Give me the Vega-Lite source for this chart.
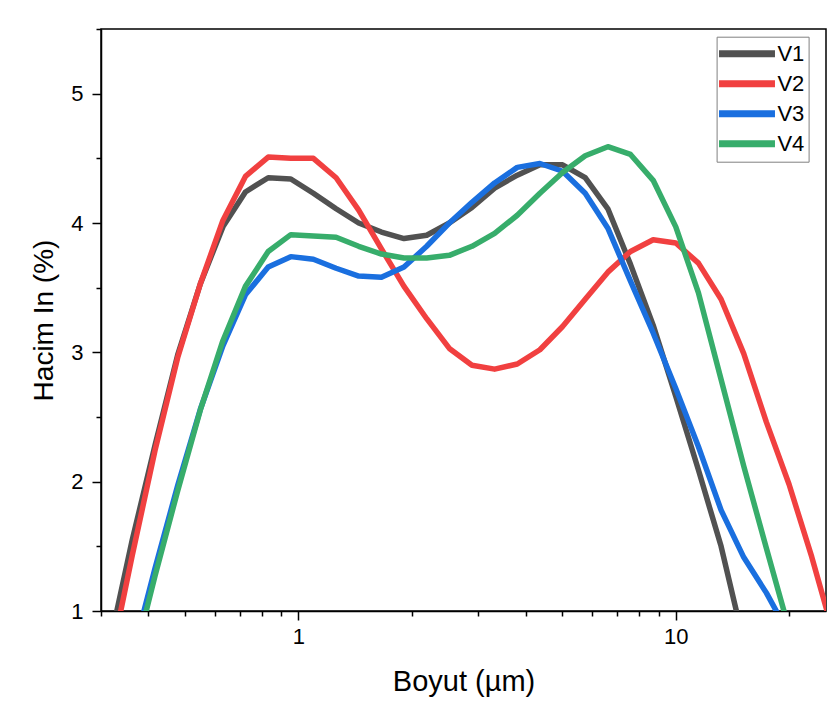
{
  "$schema": "https://vega.github.io/schema/vega-lite/v6.json",
  "width": 725,
  "height": 582,
  "autosize": {"type": "none"},
  "padding": {"left": 101, "top": 29, "right": 3, "bottom": 107},
  "background": "white",
  "config": {
    "font": "Liberation Sans",
    "view": {"stroke": "black", "strokeWidth": 1.5},
    "axis": {
      "tickWidth": 1.5,
      "tickColor": "black",
      "domainColor": "black",
      "domainWidth": 1.5,
      "grid": false,
      "labelColor": "black",
      "labelFlush": false,
      "labelOverlap": false,
      "titleFontWeight": "normal",
      "titleColor": "black"
    }
  },
  "data": {
    "values": [
      {"x": 0.316, "y": 0.74, "s": "V1"}, {"x": 0.363, "y": 1.55, "s": "V1"}, {"x": 0.417, "y": 2.28, "s": "V1"},
      {"x": 0.479, "y": 2.98, "s": "V1"}, {"x": 0.550, "y": 3.53, "s": "V1"}, {"x": 0.631, "y": 3.97, "s": "V1"},
      {"x": 0.724, "y": 4.24, "s": "V1"}, {"x": 0.832, "y": 4.35, "s": "V1"}, {"x": 0.955, "y": 4.34, "s": "V1"},
      {"x": 1.096, "y": 4.23, "s": "V1"}, {"x": 1.259, "y": 4.11, "s": "V1"}, {"x": 1.445, "y": 4.00, "s": "V1"},
      {"x": 1.660, "y": 3.93, "s": "V1"}, {"x": 1.905, "y": 3.88, "s": "V1"}, {"x": 2.188, "y": 3.905, "s": "V1"},
      {"x": 2.512, "y": 4.00, "s": "V1"}, {"x": 2.884, "y": 4.12, "s": "V1"}, {"x": 3.311, "y": 4.27, "s": "V1"},
      {"x": 3.802, "y": 4.37, "s": "V1"}, {"x": 4.365, "y": 4.45, "s": "V1"}, {"x": 5.012, "y": 4.45, "s": "V1"},
      {"x": 5.754, "y": 4.35, "s": "V1"}, {"x": 6.607, "y": 4.11, "s": "V1"}, {"x": 7.586, "y": 3.68, "s": "V1"},
      {"x": 8.710, "y": 3.21, "s": "V1"}, {"x": 10.0, "y": 2.66, "s": "V1"}, {"x": 11.482, "y": 2.09, "s": "V1"},
      {"x": 13.183, "y": 1.50, "s": "V1"}, {"x": 15.136, "y": 0.76, "s": "V1"},

      {"x": 0.316, "y": 0.58, "s": "V2"}, {"x": 0.363, "y": 1.43, "s": "V2"}, {"x": 0.417, "y": 2.24, "s": "V2"},
      {"x": 0.479, "y": 2.96, "s": "V2"}, {"x": 0.550, "y": 3.53, "s": "V2"}, {"x": 0.631, "y": 4.02, "s": "V2"},
      {"x": 0.724, "y": 4.36, "s": "V2"}, {"x": 0.832, "y": 4.51, "s": "V2"}, {"x": 0.955, "y": 4.50, "s": "V2"},
      {"x": 1.096, "y": 4.50, "s": "V2"}, {"x": 1.259, "y": 4.35, "s": "V2"}, {"x": 1.445, "y": 4.10, "s": "V2"},
      {"x": 1.660, "y": 3.80, "s": "V2"}, {"x": 1.905, "y": 3.51, "s": "V2"}, {"x": 2.188, "y": 3.26, "s": "V2"},
      {"x": 2.512, "y": 3.03, "s": "V2"}, {"x": 2.884, "y": 2.90, "s": "V2"}, {"x": 3.311, "y": 2.87, "s": "V2"},
      {"x": 3.802, "y": 2.91, "s": "V2"}, {"x": 4.365, "y": 3.02, "s": "V2"}, {"x": 5.012, "y": 3.20, "s": "V2"},
      {"x": 5.754, "y": 3.41, "s": "V2"}, {"x": 6.607, "y": 3.62, "s": "V2"}, {"x": 7.586, "y": 3.78, "s": "V2"},
      {"x": 8.710, "y": 3.87, "s": "V2"}, {"x": 10.0, "y": 3.845, "s": "V2"}, {"x": 11.482, "y": 3.69, "s": "V2"},
      {"x": 13.183, "y": 3.41, "s": "V2"}, {"x": 15.136, "y": 2.99, "s": "V2"}, {"x": 17.378, "y": 2.46, "s": "V2"},
      {"x": 19.953, "y": 1.98, "s": "V2"}, {"x": 22.909, "y": 1.42, "s": "V2"}, {"x": 26.303, "y": 0.80, "s": "V2"},

      {"x": 0.363, "y": 0.65, "s": "V3"}, {"x": 0.417, "y": 1.33, "s": "V3"}, {"x": 0.479, "y": 1.97, "s": "V3"},
      {"x": 0.550, "y": 2.56, "s": "V3"}, {"x": 0.631, "y": 3.05, "s": "V3"}, {"x": 0.724, "y": 3.445, "s": "V3"},
      {"x": 0.832, "y": 3.66, "s": "V3"}, {"x": 0.955, "y": 3.74, "s": "V3"}, {"x": 1.096, "y": 3.72, "s": "V3"},
      {"x": 1.259, "y": 3.65, "s": "V3"}, {"x": 1.445, "y": 3.59, "s": "V3"}, {"x": 1.660, "y": 3.58, "s": "V3"},
      {"x": 1.905, "y": 3.66, "s": "V3"}, {"x": 2.188, "y": 3.82, "s": "V3"}, {"x": 2.512, "y": 4.00, "s": "V3"},
      {"x": 2.884, "y": 4.16, "s": "V3"}, {"x": 3.311, "y": 4.31, "s": "V3"}, {"x": 3.802, "y": 4.43, "s": "V3"},
      {"x": 4.365, "y": 4.46, "s": "V3"}, {"x": 5.012, "y": 4.40, "s": "V3"}, {"x": 5.754, "y": 4.23, "s": "V3"},
      {"x": 6.607, "y": 3.96, "s": "V3"}, {"x": 7.586, "y": 3.55, "s": "V3"}, {"x": 8.710, "y": 3.15, "s": "V3"},
      {"x": 10.0, "y": 2.72, "s": "V3"}, {"x": 11.482, "y": 2.27, "s": "V3"}, {"x": 13.183, "y": 1.78, "s": "V3"},
      {"x": 15.136, "y": 1.415, "s": "V3"}, {"x": 17.378, "y": 1.14, "s": "V3"}, {"x": 19.953, "y": 0.82, "s": "V3"},

      {"x": 0.363, "y": 0.57, "s": "V4"}, {"x": 0.417, "y": 1.27, "s": "V4"}, {"x": 0.479, "y": 1.93, "s": "V4"},
      {"x": 0.550, "y": 2.555, "s": "V4"}, {"x": 0.631, "y": 3.09, "s": "V4"}, {"x": 0.724, "y": 3.51, "s": "V4"},
      {"x": 0.832, "y": 3.78, "s": "V4"}, {"x": 0.955, "y": 3.91, "s": "V4"}, {"x": 1.096, "y": 3.90, "s": "V4"},
      {"x": 1.259, "y": 3.89, "s": "V4"}, {"x": 1.445, "y": 3.82, "s": "V4"}, {"x": 1.660, "y": 3.76, "s": "V4"},
      {"x": 1.905, "y": 3.73, "s": "V4"}, {"x": 2.188, "y": 3.73, "s": "V4"}, {"x": 2.512, "y": 3.75, "s": "V4"},
      {"x": 2.884, "y": 3.82, "s": "V4"}, {"x": 3.311, "y": 3.92, "s": "V4"}, {"x": 3.802, "y": 4.06, "s": "V4"},
      {"x": 4.365, "y": 4.23, "s": "V4"}, {"x": 5.012, "y": 4.39, "s": "V4"}, {"x": 5.754, "y": 4.52, "s": "V4"},
      {"x": 6.607, "y": 4.59, "s": "V4"}, {"x": 7.586, "y": 4.53, "s": "V4"}, {"x": 8.710, "y": 4.33, "s": "V4"},
      {"x": 10.0, "y": 3.97, "s": "V4"}, {"x": 11.482, "y": 3.46, "s": "V4"}, {"x": 13.183, "y": 2.79, "s": "V4"},
      {"x": 15.136, "y": 2.12, "s": "V4"}, {"x": 17.378, "y": 1.485, "s": "V4"}, {"x": 19.953, "y": 0.86, "s": "V4"}
    ]
  },
  "layer": [
    {
      "mark": {"type": "line", "opacity": 0, "clip": true},
      "encoding": {
        "x": {
          "field": "x",
          "type": "quantitative",
          "scale": {"type": "log", "domain": [0.3, 25], "nice": false},
          "axis": {
            "orient": "bottom",
            "values": [0.3, 0.4, 0.5, 0.6, 0.7, 0.8, 0.9, 2, 3, 4, 5, 6, 7, 8, 9, 20],
            "labels": false,
            "title": null,
            "domain": false,
            "tickSize": 5
          }
        },
        "y": {
          "field": "y",
          "type": "quantitative",
          "scale": {"domain": [1, 5.5], "nice": false, "zero": false},
          "axis": {
            "orient": "left",
            "values": [1.5, 2.5, 3.5, 4.5, 5.5],
            "labels": false,
            "title": null,
            "domain": false,
            "tickSize": 5
          }
        },
        "detail": {"field": "s", "type": "nominal"}
      }
    },
    {
      "mark": {"type": "line", "strokeWidth": 5.5, "clip": true, "strokeJoin": "round"},
      "encoding": {
        "x": {
          "field": "x",
          "type": "quantitative",
          "title": "Boyut (µm)",
          "scale": {"type": "log", "domain": [0.3, 25], "nice": false},
          "axis": {
            "orient": "bottom",
            "values": [1, 10],
            "format": "d",
            "tickSize": 9,
            "labelFontSize": 22,
            "labelPadding": 6,
            "titleFontSize": 29,
            "titlePadding": 20
          }
        },
        "y": {
          "field": "y",
          "type": "quantitative",
          "title": "Hacim In (%)",
          "scale": {"domain": [1, 5.5], "nice": false, "zero": false},
          "axis": {
            "orient": "left",
            "values": [1, 2, 3, 4, 5],
            "format": "d",
            "tickSize": 9,
            "labelFontSize": 22,
            "labelPadding": 9,
            "titleFontSize": 28,
            "titlePadding": 12
          }
        },
        "color": {
          "field": "s",
          "type": "nominal",
          "scale": {"domain": ["V1", "V2", "V3", "V4"], "range": ["#515151", "#F14040", "#1A6FDF", "#37AD6B"]},
          "legend": {
            "title": null,
            "orient": "none",
            "legendX": 615.6,
            "legendY": 7.7,
            "symbolType": "M-3,0H3",
            "symbolSize": 348,
            "symbolStrokeWidth": 7,
            "symbolOffset": 13.4,
            "labelOffset": 17.4,
            "labelFontSize": 22,
            "labelFont": "Liberation Sans",
            "labelColor": "black",
            "strokeColor": "#808080",
            "fillColor": "white",
            "padding": 4,
            "rowPadding": 2
          }
        }
      }
    }
  ],
  "resolve": {"axis": {"x": "independent", "y": "independent"}}
}
